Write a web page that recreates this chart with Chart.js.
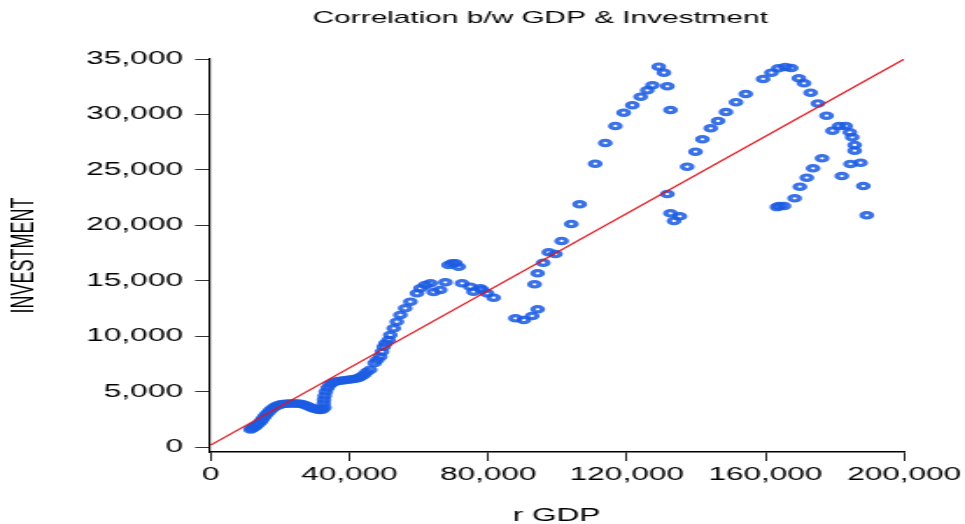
<!DOCTYPE html>
<html>
<head>
<meta charset="utf-8">
<script src="https://cdn.jsdelivr.net/npm/chart.js@4/dist/chart.umd.min.js"></script>
<style>
  html, body { margin: 0; padding: 0; background: #ffffff; overflow: hidden; }
  /* the chart is laid out narrow and widened horizontally */
  #wrap { width: 551px; height: 524px; transform: scaleX(1.7514); transform-origin: 0 0; }
</style>
</head>
<body>
<div id="wrap"><canvas id="chart" width="551" height="524"></canvas></div>
<script>
// Real GDP (x) and investment (y), one entry per observation
const gdp = [
  11500, 12000, 12500, 13000, 13500, 14000, 14500, 15000, 15500, 16000,
  16600, 17200, 17800, 18500, 19200, 20000, 20800, 21700, 22600, 23500,
  24400, 25300, 26200, 27000, 27800, 28600, 29400, 30200, 31000, 31700,
  32300, 32800, 32600, 32700, 32900, 33200, 33700, 34400, 35300, 36300,
  37400, 38500, 39600, 40700, 41700, 42600, 43400, 44200, 45000, 46000,
  47300, 48000, 48900, 49400, 49900, 50400, 51300, 51800, 52800, 53700,
  54700, 56100, 57600, 59500, 60500, 61900, 63400, 64300, 66200, 67700,
  68600, 69600, 70600, 71500, 72500, 74900, 75800, 77800, 78300, 79700,
  81600, 87900, 90300, 92700, 94300, 93400, 94300, 95900, 97500, 99400,
  101200, 104000, 106400, 110900, 113800, 116700, 119100, 121600, 124000, 125900,
  127400, 129200, 130700, 131700, 132600, 131700, 132600, 133600, 135300, 137400,
  139800, 141800, 144200, 146300, 148600, 151500, 154300, 159300, 161700, 163700,
  165700, 167400, 169600, 171100, 173000, 175100, 177600, 179300, 181200,
  183100, 184300, 185000, 185700, 185700, 187400, 184500, 182000, 176300, 173700,
  171900, 169900, 168400, 165300, 163900, 163300, 188200, 189200
];
const investment = [
  1600, 1700, 1800, 1900, 2050, 2200, 2350, 2550, 2750, 2950,
  3150, 3350, 3500, 3650, 3760, 3850, 3900, 3930, 3950, 3960,
  3960, 3940, 3900, 3830, 3740, 3640, 3530, 3450, 3390, 3370,
  3420, 3600, 3950, 4300, 4650, 5000, 5350, 5650, 5850, 5950,
  6000, 6050, 6100, 6130, 6180, 6250, 6380, 6550, 6800, 7000,
  7600, 7870, 8170, 8620, 9070, 9370, 9670, 10120, 10730, 11320,
  11930, 12530, 13120, 13880, 14330, 14630, 14780, 14000, 14180, 14870,
  16430, 16590, 16600, 16280, 14780, 14480, 14030, 14330, 14180, 13880,
  13490, 11630, 11470, 11840, 12440, 14690, 15680, 16640, 17580, 17420,
  18600, 20130, 21900, 25560, 27430, 28960, 30160, 30830, 31600, 32180,
  32630, 34310, 33770, 32540, 30400, 22830, 21090, 20400, 20820, 25290,
  26650, 27760, 28750, 29410, 30220, 31100, 31850, 33200, 33770, 34160,
  34280, 34180, 33260, 32810, 31960, 31000, 29890, 28540, 28960,
  28960, 28390, 27940, 27250, 26740, 25650, 25540, 24450, 26050, 25150,
  24300, 23490, 22440, 21750, 21750, 21650, 23550, 20910
];

// Fitted regression line, end points
const fitGdp = [0, 200000];
const fitInvestment = [200, 35000];

// Axis tick values
const xTicks = [0, 40000, 80000, 120000, 160000, 200000];
const yTicks = [0, 5000, 10000, 15000, 20000, 25000, 30000, 35000];

const points = gdp.map((g, i) => ({ x: g, y: investment[i] }));
const fitLine = fitGdp.map((g, i) => ({ x: g, y: fitInvestment[i] }));
const fmt = v => Number(v).toLocaleString('en-US');

Chart.defaults.font.family = "'Liberation Sans', Arial, Helvetica, sans-serif";
Chart.defaults.color = '#000000';

// Shift the title block so the heading sits over the plot
const titlePlacement = {
  id: 'titlePlacement',
  afterLayout(chart) {
    const t = chart.titleBlock;
    if (t) { t.left = 66; t.right = 551; }
  }
};

new Chart(document.getElementById('chart'), {
  type: 'scatter',
  data: {
    datasets: [
      {
        type: 'line',
        data: fitLine,
        borderColor: '#e0141c',
        borderWidth: 1.2,
        pointRadius: 0,
        fill: false,
        order: 0
      },
      {
        data: points,
        pointRadius: 2.7,
        pointBorderWidth: 3.1,
        pointBackgroundColor: 'rgba(0,0,0,0)',
        pointBorderColor: 'rgba(28,92,228,0.87)',
        order: 1
      }
    ]
  },
  options: {
    responsive: false,
    animation: false,
    events: [],
    layout: { padding: { left: 0, right: 34.7, top: 0, bottom: 0 } },
    plugins: {
      legend: { display: false },
      tooltip: { enabled: false },
      title: {
        display: true,
        text: 'Correlation b/w GDP & Investment',
        color: '#000000',
        font: { size: 17, weight: 'normal' },
        padding: { top: 8.5, bottom: 30.1 }
      }
    },
    scales: {
      x: {
        type: 'linear',
        min: -430,
        max: 200000,
        afterBuildTicks: axis => { axis.ticks = xTicks.map(v => ({ value: v })); },
        afterFit: axis => { axis.height = 72; axis.paddingLeft = 0; axis.paddingRight = 0; },
        ticks: { callback: fmt, font: { size: 18 }, padding: 3, maxRotation: 0, autoSkip: false, color: '#000' },
        grid: { drawOnChartArea: false, drawTicks: true, tickLength: 9, tickColor: '#222', tickWidth: 1 },
        border: { display: true, color: '#000', width: 1.5 },
        title: { display: true, text: 'r GDP', font: { size: 18 }, color: '#000', padding: { top: 0, bottom: -3 } }
      },
      y: {
        type: 'linear',
        min: -420,
        max: 35000,
        afterBuildTicks: axis => { axis.ticks = yTicks.map(v => ({ value: v })); },
        afterFit: axis => { axis.width = 119.4; axis.paddingTop = 0; axis.paddingBottom = 0; },
        ticks: { callback: fmt, font: { size: 18 }, padding: 7, autoSkip: false, color: '#000' },
        grid: { drawOnChartArea: false, drawTicks: true, tickLength: 8, tickColor: '#333', tickWidth: 1 },
        border: { display: true, color: '#000', width: 1.2 },
        title: { display: true, text: 'INVESTMENT', font: { size: 18 }, color: '#000', padding: { top: 3.5, bottom: 0 } }
      }
    }
  },
  plugins: [titlePlacement]
});
</script>
</body>
</html>
